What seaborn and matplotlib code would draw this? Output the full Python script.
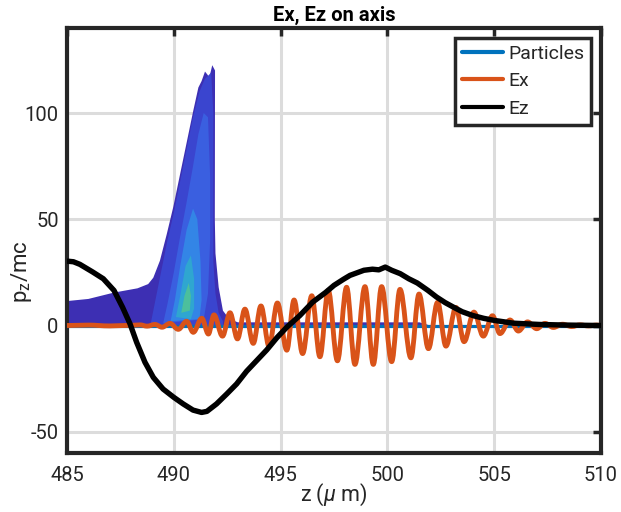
import numpy as np
import pandas as pd
import matplotlib
matplotlib.use("Agg")
import matplotlib.pyplot as plt
from matplotlib.lines import Line2D
from matplotlib.path import Path
from matplotlib.patches import PathPatch
import seaborn as sns

# ---------------- data ----------------
ez_z = [485.0, 485.3, 485.6, 486.2, 486.7, 487.2, 487.6, 487.95, 488.26, 488.65,
        489.04, 489.5, 490.0, 490.44, 490.9, 491.3, 491.55, 492.0, 492.48, 492.94,
        493.41, 493.88, 494.35, 494.82, 495.29, 495.9, 496.5, 497.1, 497.5, 497.95,
        498.25, 498.9, 499.3, 499.6, 499.9, 500.2, 500.6, 501.0, 501.4, 501.9,
        502.3, 502.7, 503.1, 503.5, 504.0, 504.5, 505.0, 505.9, 507.1, 508.4, 510.0]
ez_val = [30.3, 30.0, 28.8, 25.2, 22.0, 16.5, 8.6, 0.8, -7.9, -17.3,
          -24.4, -29.9, -33.8, -36.9, -39.8, -40.9, -40.4, -36.9, -32.2, -27.5,
          -21.5, -16.5, -11.5, -5.8, -0.8, 4.7, 11.0, 15.5, 18.9, 21.8,
          23.6, 26.0, 26.5, 26.2, 27.5, 26.0, 24.4, 22.0, 20.0, 16.5,
          13.4, 10.8, 8.6, 6.5, 4.7, 3.4, 2.4, 1.1, 0.5, 0.2, 0.0]

# Ex: positions and values of successive extrema
ex_z = [485.0, 486.0, 487.0, 488.0, 488.42, 488.75, 489.12, 489.45, 489.82, 490.21,
        490.60, 490.91, 491.31, 491.62, 491.88, 492.28, 492.63, 492.98, 493.33, 493.72,
        494.08, 494.46, 494.85, 495.29, 495.63, 496.03, 496.46, 496.84, 497.23, 497.66,
        498.09, 498.48, 498.95, 499.34, 499.73, 500.20, 500.59, 501.10, 501.48, 501.92,
        502.35, 502.74, 503.21, 503.59, 504.05, 504.49, 504.92, 505.27, 505.74, 506.13,
        506.56, 506.99, 507.38, 507.77, 508.20, 508.63, 509.02, 509.41, 509.80, 510.0]
ex_val = [0.0, 0.2, -0.2, 0.1, 0.3, -0.3, 0.5, -0.8, 1.0, -1.8,
          2.0, -3.2, 3.4, -4.0, 5.0, -5.0, 6.0, -6.3, 7.7, -8.4,
          9.2, -9.8, 10.6, -11.6, 12.0, -13.2, 14.0, -14.7, 16.5, -16.6,
          18.0, -18.3, 18.3, -18.3, 18.3, -17.0, 17.0, -15.2, 14.8, -10.9,
          10.9, -9.7, 8.5, -7.6, 6.3, -5.0, 4.6, -3.8, 2.6, -2.6,
          1.7, -1.5, 1.0, -0.9, 0.6, -0.5, 0.3, -0.2, 0.2, 0.0]

particles_z = [485.0, 510.0]
particles_val = [0.0, 0.0]

# particle cloud outlines (density layers, outer -> core)
cloud_outer_z = [485.0, 486.0, 487.2, 488.3, 488.8, 489.04, 489.35, 489.67, 489.98, 490.29,
                 490.6, 490.91, 491.15, 491.3, 491.46, 491.58, 491.66, 491.8, 491.93, 491.92,
                 491.95, 492.1, 492.3, 492.6, 493.0, 496.0, 501.5, 502.0, 485.0]
cloud_outer_y = [11.5, 12.5, 15.5, 17.5, 19.5, 22.5, 30.5, 43.0, 56.0, 71.0,
                 86.0, 101.0, 112.0, 115.0, 119.5, 118.0, 116.5, 122.5, 120.0, 50.0,
                 34.0, 18.0, 7.0, 3.0, 1.5, 1.5, 1.5, 0.0, 0.0]
cloud_l2_z = [488.9, 489.1, 489.4, 489.7, 490.0, 490.3, 490.6, 490.9, 491.2, 491.45,
              491.75, 491.85, 491.85, 491.95, 492.1, 492.3, 492.3]
cloud_l2_y = [0.0, 10.0, 25.0, 40.0, 53.0, 68.0, 83.0, 98.0, 110.0, 116.0,
              119.0, 100.0, 30.0, 15.0, 6.0, 2.0, 0.0]
cloud_l3_z = [489.5, 489.7, 490.0, 490.3, 490.6, 490.9, 491.15, 491.4, 491.6, 491.7,
              491.7, 491.6, 491.4]
cloud_l3_y = [1.0, 10.0, 25.0, 42.0, 58.0, 75.0, 90.0, 100.0, 98.0, 70.0,
              40.0, 15.0, 3.0]
cloud_l4_z = [489.85, 490.05, 490.3, 490.6, 490.9, 491.1, 491.25, 491.3, 491.2]
cloud_l4_y = [2.0, 12.0, 28.0, 45.0, 55.0, 50.0, 30.0, 12.0, 3.0]
cloud_l5_z = [490.1, 490.3, 490.55, 490.8, 490.95, 490.95, 490.8]
cloud_l5_y = [4.0, 14.0, 28.0, 33.0, 22.0, 8.0, 3.0]
cloud_l6_z = [490.35, 490.5, 490.7, 490.8, 490.75]
cloud_l6_y = [6.0, 14.0, 20.0, 14.0, 7.0]

x_ticks = [485, 490, 495, 500, 505, 510]
y_ticks = [-50, 0, 50, 100]

# ---------------- style ----------------
sns.set_theme(style="white")
plt.rcParams["font.family"] = ["Roboto", "DejaVu Sans"]
plt.rcParams["mathtext.fontset"] = "custom"
plt.rcParams["mathtext.rm"] = "Roboto"
plt.rcParams["mathtext.it"] = "Roboto:italic"

dark = "#262626"
fig = plt.figure(figsize=(6.21, 5.12), dpi=100)
ax = fig.add_axes([0.1079, 0.1152, 0.8599, 0.8301])

# particle cloud layers
layer_colors = ["#3d2fb3", "#3a45cf", "#3a5fe0", "#3385e6", "#2fa6d0", "#4cbf9c"]
layers = [(cloud_outer_z, cloud_outer_y), (cloud_l2_z, cloud_l2_y), (cloud_l3_z, cloud_l3_y),
          (cloud_l4_z, cloud_l4_y), (cloud_l5_z, cloud_l5_y), (cloud_l6_z, cloud_l6_y)]
for (lz, ly), c in zip(layers, layer_colors):
    ax.fill(lz, ly, color=c, lw=0, zorder=2)

df_p = pd.DataFrame({"z": particles_z, "v": particles_val})
df_ez = pd.DataFrame({"z": ez_z, "v": ez_val})

sns.lineplot(data=df_p, x="z", y="v", ax=ax, color="#0072BD", lw=2.3, estimator=None,
             zorder=3, legend=False)

# Ex drawn as a smooth curve through its extrema (horizontal tangents at each extremum)
verts = [(ex_z[0], ex_val[0])]
codes = [Path.MOVETO]
for i in range(len(ex_z) - 1):
    z0, v0, z1, v1 = ex_z[i], ex_val[i], ex_z[i + 1], ex_val[i + 1]
    d = z1 - z0
    verts += [(z0 + 0.363 * d, v0), (z1 - 0.363 * d, v1), (z1, v1)]
    codes += [Path.CURVE4] * 3
ax.add_patch(PathPatch(Path(verts, codes), fill=False, edgecolor="#D95319", lw=3.5,
                       capstyle="round", joinstyle="round", zorder=4))

sns.lineplot(data=df_ez, x="z", y="v", ax=ax, color="black", lw=3.9, estimator=None,
             zorder=5, legend=False, solid_joinstyle="round")

ax.set_xlim(485, 510)
ax.set_ylim(-60, 140)
ax.set_xticks(x_ticks)
ax.set_yticks(y_ticks)
ax.set_xticklabels([str(t) for t in x_ticks])
ax.set_yticklabels([str(t) for t in y_ticks])
ax.grid(True, color="#dcdcdc", lw=2.2, zorder=0)
ax.set_axisbelow(True)
for s in ax.spines.values():
    s.set_visible(True)
    s.set_color(dark)
    s.set_linewidth(3.0)
ax.tick_params(direction="in", length=6, width=2.5, color=dark, labelcolor=dark,
               labelsize=14.5, top=True, right=True)
ax.tick_params(axis="x", pad=9)
ax.tick_params(axis="y", pad=6)

ax.set_xlabel(r"z ($\mu$ m)", fontsize=15.5, color=dark)
ax.xaxis.set_label_coords(0.5, -0.068)
ax.set_ylabel(r"p$_\mathrm{z}$/mc", fontsize=16, color=dark)
ax.yaxis.set_label_coords(-0.062, 0.426)
ax.set_title("Ex, Ez on axis", fontsize=14.5, fontweight="bold", color="black", pad=5)

handles = [Line2D([], [], color="#0072BD", lw=3),
           Line2D([], [], color="#D95319", lw=3),
           Line2D([], [], color="black", lw=3)]
leg = ax.legend(handles, ["Particles", "Ex", "Ez"], loc="upper right", fontsize=14,
                frameon=True, fancybox=False, framealpha=1, edgecolor=dark,
                handlelength=2.1, handletextpad=0.3, borderpad=0.35, labelspacing=0.5,
                borderaxespad=0.5)
leg.get_frame().set_linewidth(2.5)
leg.set_zorder(10)

fig.savefig("out.png", dpi=100)
